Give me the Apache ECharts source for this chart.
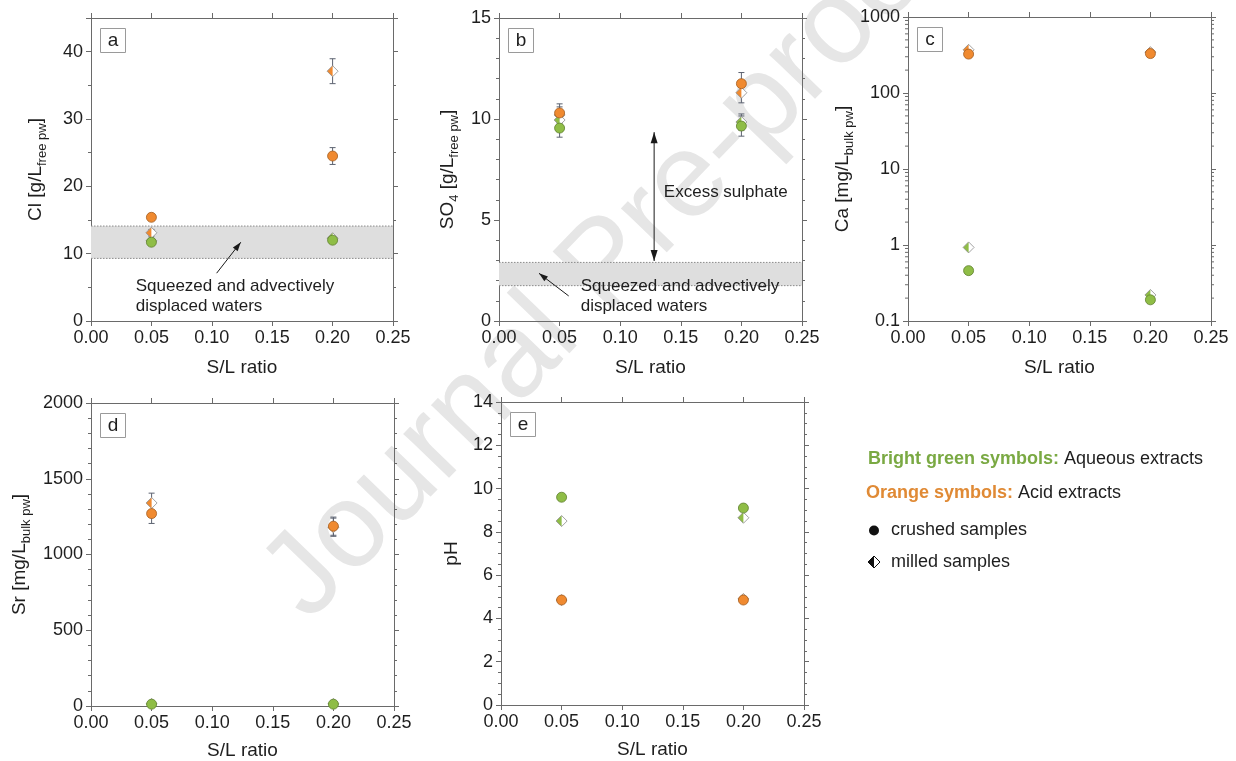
<!DOCTYPE html>
<html>
<head>
<meta charset="utf-8">
<script src="https://cdn.jsdelivr.net/npm/echarts@6/dist/echarts.min.js"></script>
<style>
  html, body { margin: 0; padding: 0; background: #fff; }
  #chart { width: 1236px; height: 761px; }
</style>
</head>
<body>
<div id="chart"></div>
<script>
// Solid/liquid ratios of the extraction tests
const slRatio = [0.05, 0.20];

// (a) Cl [g/L free porewater]
const clCrushedAq = [11.7, 12.0];
const clCrushedAqErr = [0.4, 0.4];
const clMilledAq = [11.9, 12.3];
const clCrushedAcid = [15.4, 24.5];
const clCrushedAcidErr = [0.5, 1.25];
const clMilledAcid = [13.1, 37.1];
const clMilledAcidErr = [0.5, 1.85];
const clSqueezedRange = [9.3, 14.1];

// (b) SO4 [g/L free porewater]
const so4CrushedAq = [9.55, 9.65];
const so4CrushedAqErr = [0.45, 0.5];
const so4MilledAq = [9.95, 9.85];
const so4MilledAqErr = [0.4, 0.4];
const so4CrushedAcid = [10.3, 11.75];
const so4CrushedAcidErr = [0.45, 0.55];
const so4MilledAcid = [10.2, 11.3];
const so4MilledAcidErr = [0.4, 0.5];
const so4SqueezedRange = [1.75, 2.9];

// (c) Ca [mg/L bulk porewater]
const caCrushedAq = [0.46, 0.19];
const caMilledAq = [0.93, 0.22];
const caCrushedAcid = [325, 330];
const caMilledAcid = [370, 345];
const caMinorTicks = [0.2, 0.3, 0.4, 0.5, 0.6, 0.7, 0.8, 0.9,
                      2, 3, 4, 5, 6, 7, 8, 9,
                      20, 30, 40, 50, 60, 70, 80, 90,
                      200, 300, 400, 500, 600, 700, 800, 900];

// (d) Sr [mg/L bulk porewater]
const srCrushedAq = [12, 12];
const srMilledAq = [14, 14];
const srCrushedAcid = [1270, 1187];
const srCrushedAcidErr = [65, 60];
const srMilledAcid = [1340, 1180];
const srMilledAcidErr = [65, 60];

// (e) pH
const phCrushedAq = [9.6, 9.1];
const phMilledAq = [8.5, 8.65];
const phCrushedAcid = [4.85, 4.85];
const phMilledAcid = [4.85, 4.9];

// Annotation anchors in data units: arrows are [x1, y1, x2, y2] (tail -> head)
const clNoteArrow = [0.104, 7.1, 0.124, 11.7];
const clNoteAnchor = [0.037, 3.7];
const so4NoteArrow = [0.0575, 1.24, 0.033, 2.36];
const so4NoteAnchor = [0.0674, 1.24];
const so4ExcessArrow = [0.128, 2.97, 0.128, 9.35];
const so4ExcessAnchor = [0.136, 6.36];
const squeezedText = 'Squeezed and advectively\ndisplaced waters';
const excessText = 'Excess sulphate';

// ---- styling ----
const FONT = '"Liberation Sans", Arial, Helvetica, sans-serif';
const INK = '#1e1e1e';
const FRAME = '#6a6a6a';
const ORANGE = '#f08a30', ORANGE_EDGE = '#a35e22';
const GREEN = '#8fbd46', GREEN_EDGE = '#5f8030';
const DIAMOND_EDGE = '#8c8c8c';
const ERR = '#5c6270';

const layout = [
  { left: 91,  top: 18,  width: 302, height: 303 },
  { left: 499, top: 18,  width: 303, height: 303 },
  { left: 908, top: 17,  width: 303, height: 304 },
  { left: 91,  top: 403, width: 303, height: 303 },
  { left: 501, top: 402, width: 303, height: 303 }
];

const panelDefs = [
  { label: 'a', yType: 'value', yMin: 0, yMax: 45, yStep: 10, yMinor: 5,
    yName: 'Cl [g/L{sub|free pw}]', yNameGap: 42, xNameGap: 37 },
  { label: 'b', yType: 'value', yMin: 0, yMax: 15, yStep: 5, yMinor: 1,
    yName: 'SO{sub|4} [g/L{sub|free pw}]', yNameGap: 38, xNameGap: 37 },
  { label: 'c', yType: 'log', yMin: 0.1, yMax: 1000,
    yName: 'Ca [mg/L{sub|bulk pw}]', yNameGap: 49, xNameGap: 37 },
  { label: 'd', yType: 'value', yMin: 0, yMax: 2000, yStep: 500, yMinor: 100,
    yName: 'Sr [mg/L{sub|bulk pw}]', yNameGap: 58, xNameGap: 35 },
  { label: 'e', yType: 'value', yMin: 0, yMax: 14, yStep: 2, yMinor: 0.5,
    yName: 'pH', yNameGap: 40, xNameGap: 35 }
];

const grid = [], xAxis = [], yAxis = [], series = [];
const yMain = [];

panelDefs.forEach((p, i) => {
  const g = layout[i];
  grid.push({ left: g.left, top: g.top, width: g.width, height: g.height,
              containLabel: false, outerBoundsMode: 'none', show: false });

  const xBase = {
    gridIndex: i, type: 'value', min: 0, max: 0.25, interval: 0.05,
    splitLine: { show: false },
    axisLine: { show: true, onZero: false, lineStyle: { color: FRAME, width: 1 } },
    axisTick: { show: true, inside: false, length: 5, lineStyle: { color: FRAME, width: 1 } }
  };
  xAxis.push(Object.assign({}, xBase, {
    position: 'bottom',
    axisLabel: { show: true, fontSize: 18, color: INK, fontFamily: FONT, margin: 8,
                 formatter: v => v.toFixed(2) },
    name: 'S/L ratio', nameLocation: 'middle', nameGap: p.xNameGap,
    nameTextStyle: { fontSize: 19, color: INK, fontFamily: FONT }
  }));
  xAxis.push(Object.assign({}, xBase, { position: 'top', axisLabel: { show: false } }));

  const yBase = p.yType === 'log'
    ? { type: 'log', logBase: 10, min: p.yMin, max: p.yMax }
    : { type: 'value', min: p.yMin, max: p.yMax, interval: p.yStep };
  const common = {
    gridIndex: i, splitLine: { show: false },
    axisLine: { show: true, onZero: false, lineStyle: { color: FRAME, width: 1 } },
    axisTick: { show: true, inside: false, length: 5, lineStyle: { color: FRAME, width: 1 } }
  };
  const yFmt = p.yType === 'log'
    ? (v => v < 1 ? v.toFixed(1) : String(Math.round(v)))
    : (v => Math.abs(v / p.yStep - Math.round(v / p.yStep)) < 1e-6 ? String(v) : '');

  yMain[i] = yAxis.length;
  yAxis.push(Object.assign({}, yBase, common, {
    position: 'left',
    axisLabel: { show: true, fontSize: 18, color: INK, fontFamily: FONT, margin: 8, formatter: yFmt },
    name: p.yName, nameLocation: 'middle', nameGap: p.yNameGap, nameRotate: 90,
    nameTextStyle: {
      fontSize: 19, color: INK, fontFamily: FONT,
      rich: { sub: { fontSize: 13, fontFamily: FONT, color: INK, padding: [14, 0, 0, 0] } }
    }
  }));
  yAxis.push(Object.assign({}, yBase, common, { position: 'right', axisLabel: { show: false } }));

  if (p.yMinor) {
    const minorBase = {
      gridIndex: i, type: 'value', min: p.yMin, max: p.yMax, interval: p.yMinor,
      splitLine: { show: false }, axisLabel: { show: false },
      axisLine: { show: false, onZero: false },
      axisTick: { show: true, inside: false, length: 3, lineStyle: { color: FRAME, width: 1 } }
    };
    yAxis.push(Object.assign({}, minorBase, { position: 'left' }));
    yAxis.push(Object.assign({}, minorBase, { position: 'right' }));
  }
});

// ---- series helpers ----
function pairs(vals) { return slRatio.map((x, k) => [x, vals[k]]); }

function circles(i, vals, color, edge) {
  series.push({
    type: 'scatter', xAxisIndex: 2 * i, yAxisIndex: yMain[i], z: 5,
    symbol: 'circle', symbolSize: 10, silent: true,
    itemStyle: { color: color, borderColor: edge, borderWidth: 0.8, opacity: 1 },
    data: pairs(vals)
  });
}

function diamonds(i, vals, color) {
  series.push({
    type: 'custom', xAxisIndex: 2 * i, yAxisIndex: yMain[i], z: 4, silent: true,
    data: pairs(vals),
    renderItem: (params, api) => {
      const c = api.coord([api.value(0), api.value(1)]);
      const r = 5.5, x = c[0], y = c[1];
      const full = [[x, y - r], [x + r, y], [x, y + r], [x - r, y]];
      return { type: 'group', children: [
        { type: 'polygon', shape: { points: full }, style: { fill: '#ffffff' } },
        { type: 'polygon', shape: { points: [[x, y - r], [x, y + r], [x - r, y]] }, style: { fill: color } },
        { type: 'polygon', shape: { points: full }, style: { fill: 'none', stroke: DIAMOND_EDGE, lineWidth: 0.8 } }
      ] };
    }
  });
}

function errorBars(i, vals, errs) {
  series.push({
    type: 'custom', xAxisIndex: 2 * i, yAxisIndex: yMain[i], z: 3, silent: true,
    data: slRatio.map((x, k) => [x, vals[k], errs[k]]),
    encode: { x: 0, y: 1 },
    renderItem: (params, api) => {
      const x = api.value(0), y = api.value(1), e = api.value(2);
      const lo = api.coord([x, y - e]), hi = api.coord([x, y + e]);
      const w = 3;
      const st = { stroke: ERR, lineWidth: 1 };
      return { type: 'group', children: [
        { type: 'line', shape: { x1: lo[0], y1: lo[1], x2: hi[0], y2: hi[1] }, style: st },
        { type: 'line', shape: { x1: lo[0] - w, y1: lo[1], x2: lo[0] + w, y2: lo[1] }, style: st },
        { type: 'line', shape: { x1: hi[0] - w, y1: hi[1], x2: hi[0] + w, y2: hi[1] }, style: st }
      ] };
    }
  });
}

function band(i, range) {
  series.push({
    type: 'custom', xAxisIndex: 2 * i, yAxisIndex: yMain[i], z: 1, silent: true,
    data: [[0, range[0], range[1]]],
    encode: { x: 0, y: [1, 2] },
    renderItem: (params, api) => {
      const tl = api.coord([0, api.value(2)]);
      const br = api.coord([0.25, api.value(1)]);
      const edge = { stroke: '#8a8a8a', lineWidth: 1, lineDash: [1.5, 1.5] };
      return { type: 'group', children: [
        { type: 'rect', shape: { x: tl[0], y: tl[1], width: br[0] - tl[0], height: br[1] - tl[1] },
          style: { fill: '#dedede' } },
        { type: 'line', shape: { x1: tl[0], y1: tl[1], x2: br[0], y2: tl[1] }, style: edge },
        { type: 'line', shape: { x1: tl[0], y1: br[1], x2: br[0], y2: br[1] }, style: edge }
      ] };
    }
  });
}

function arrowHead(tip, ang, len, half) {
  const bx = tip[0] - len * Math.cos(ang), by = tip[1] - len * Math.sin(ang);
  return { type: 'polygon', shape: { points: [
    tip,
    [bx - half * Math.sin(ang), by + half * Math.cos(ang)],
    [bx + half * Math.sin(ang), by - half * Math.cos(ang)]
  ] }, style: { fill: '#1a1a1a' } };
}

function arrow(i, seg, both, len, half) {
  series.push({
    type: 'custom', xAxisIndex: 2 * i, yAxisIndex: yMain[i], z: 6, silent: true,
    data: [seg], encode: { x: [0, 2], y: [1, 3] },
    renderItem: (params, api) => {
      const p0 = api.coord([api.value(0), api.value(1)]);
      const p1 = api.coord([api.value(2), api.value(3)]);
      const ang = Math.atan2(p1[1] - p0[1], p1[0] - p0[0]);
      const kids = [
        { type: 'line', shape: { x1: p0[0], y1: p0[1], x2: p1[0], y2: p1[1] },
          style: { stroke: '#1a1a1a', lineWidth: 1 } },
        arrowHead(p1, ang, len, half)
      ];
      if (both) kids.push(arrowHead(p0, ang + Math.PI, len, half));
      return { type: 'group', children: kids };
    }
  });
}

function note(i, anchor, text) {
  series.push({
    type: 'custom', xAxisIndex: 2 * i, yAxisIndex: yMain[i], z: 6, silent: true,
    data: [anchor],
    renderItem: (params, api) => {
      const c = api.coord([api.value(0), api.value(1)]);
      return { type: 'text', x: c[0], y: c[1], style: {
        text: text, fontSize: 17, fontFamily: FONT, fill: INK,
        align: 'left', verticalAlign: 'middle', lineHeight: 20
      } };
    }
  });
}

function logMinorTicks(i, ticks) {
  series.push({
    type: 'custom', xAxisIndex: 2 * i, yAxisIndex: yMain[i], z: 2, silent: true,
    data: ticks.map(v => [0, v]),
    renderItem: (params, api) => {
      const l = api.coord([0, api.value(1)]);
      const r = api.coord([0.25, api.value(1)]);
      const st = { stroke: FRAME, lineWidth: 1 };
      return { type: 'group', children: [
        { type: 'line', shape: { x1: l[0] - 3, y1: l[1], x2: l[0], y2: l[1] }, style: st },
        { type: 'line', shape: { x1: r[0], y1: r[1], x2: r[0] + 3, y2: r[1] }, style: st }
      ] };
    }
  });
}

// (a) chloride
band(0, clSqueezedRange);
errorBars(0, clCrushedAq, clCrushedAqErr);
errorBars(0, clCrushedAcid, clCrushedAcidErr);
errorBars(0, clMilledAcid, clMilledAcidErr);
diamonds(0, clMilledAq, GREEN);
diamonds(0, clMilledAcid, ORANGE);
circles(0, clCrushedAq, GREEN, GREEN_EDGE);
circles(0, clCrushedAcid, ORANGE, ORANGE_EDGE);
arrow(0, clNoteArrow, false, 9, 3);
note(0, clNoteAnchor, squeezedText);

// (b) sulphate
band(1, so4SqueezedRange);
errorBars(1, so4CrushedAq, so4CrushedAqErr);
errorBars(1, so4MilledAq, so4MilledAqErr);
errorBars(1, so4CrushedAcid, so4CrushedAcidErr);
errorBars(1, so4MilledAcid, so4MilledAcidErr);
diamonds(1, so4MilledAcid, ORANGE);
diamonds(1, so4MilledAq, GREEN);
circles(1, so4CrushedAq, GREEN, GREEN_EDGE);
circles(1, so4CrushedAcid, ORANGE, ORANGE_EDGE);
arrow(1, so4ExcessArrow, true, 11, 3.5);
arrow(1, so4NoteArrow, false, 9, 3);
note(1, so4ExcessAnchor, excessText);
note(1, so4NoteAnchor, squeezedText);

// (c) calcium (log scale)
logMinorTicks(2, caMinorTicks);
diamonds(2, caMilledAq, GREEN);
diamonds(2, caMilledAcid, ORANGE);
circles(2, caCrushedAq, GREEN, GREEN_EDGE);
circles(2, caCrushedAcid, ORANGE, ORANGE_EDGE);

// (d) strontium
errorBars(3, srCrushedAcid, srCrushedAcidErr);
errorBars(3, srMilledAcid, srMilledAcidErr);
diamonds(3, srMilledAq, GREEN);
diamonds(3, srMilledAcid, ORANGE);
circles(3, srCrushedAq, GREEN, GREEN_EDGE);
circles(3, srCrushedAcid, ORANGE, ORANGE_EDGE);

// (e) pH
diamonds(4, phMilledAq, GREEN);
diamonds(4, phMilledAcid, ORANGE);
circles(4, phCrushedAq, GREEN, GREEN_EDGE);
circles(4, phCrushedAcid, ORANGE, ORANGE_EDGE);

// ---- panel letters, key and watermark ----
const graphic = [];
graphic.push({
  type: 'text', x: 285, y: 600, rotation: 46 * Math.PI / 180, z: -10, silent: true,
  style: { text: 'Journal Pre-proof', fontSize: 120, fontFamily: FONT, fill: '#e6e6e6',
           align: 'left', verticalAlign: 'middle' }
});
panelDefs.forEach((p, i) => {
  const g = layout[i];
  graphic.push({
    type: 'group', x: g.left + 9.5, y: g.top + 10.5, z: 10, silent: true,
    children: [
      { type: 'rect', shape: { x: 0, y: 0, width: 25, height: 24 },
        style: { fill: '#fff', stroke: '#9a9a9a', lineWidth: 1 } },
      { type: 'text', x: 12.5, y: 12, style: { text: p.label, fontSize: 19, fontFamily: FONT,
        fill: INK, align: 'center', verticalAlign: 'middle' } }
    ]
  });
});

const keyX = 868;
graphic.push(
  { type: 'text', x: keyX, y: 459, silent: true, style: {
      text: '{g|Bright green symbols:} Aqueous extracts', fontSize: 18, fontFamily: FONT, fill: INK,
      verticalAlign: 'middle',
      rich: { g: { fill: '#7aa943', fontWeight: 'bold', fontSize: 18, fontFamily: FONT } } } },
  { type: 'text', x: keyX - 2, y: 493, silent: true, style: {
      text: '{o|Orange symbols:} Acid extracts', fontSize: 18, fontFamily: FONT, fill: INK,
      verticalAlign: 'middle',
      rich: { o: { fill: '#e08a35', fontWeight: 'bold', fontSize: 18, fontFamily: FONT } } } },
  { type: 'circle', silent: true, shape: { cx: 874, cy: 530.5, r: 5 }, style: { fill: '#111' } },
  { type: 'polygon', silent: true, shape: { points: [[874, 556], [880, 562], [874, 568], [868, 562]] },
    style: { fill: '#fff', stroke: '#111', lineWidth: 1 } },
  { type: 'polygon', silent: true, shape: { points: [[874, 556], [874, 568], [868, 562]] },
    style: { fill: '#111' } },
  { type: 'text', x: 891, y: 530.5, silent: true, style: { text: 'crushed samples', fontSize: 18,
      fontFamily: FONT, fill: INK, verticalAlign: 'middle' } },
  { type: 'text', x: 891, y: 562, silent: true, style: { text: 'milled samples', fontSize: 18,
      fontFamily: FONT, fill: INK, verticalAlign: 'middle' } }
);

const chart = echarts.init(document.getElementById('chart'), null, { renderer: 'canvas' });
chart.setOption({
  backgroundColor: '#ffffff',
  animation: false,
  textStyle: { fontFamily: FONT },
  grid: grid,
  xAxis: xAxis,
  yAxis: yAxis,
  series: series,
  graphic: graphic
});
</script>
</body>
</html>
